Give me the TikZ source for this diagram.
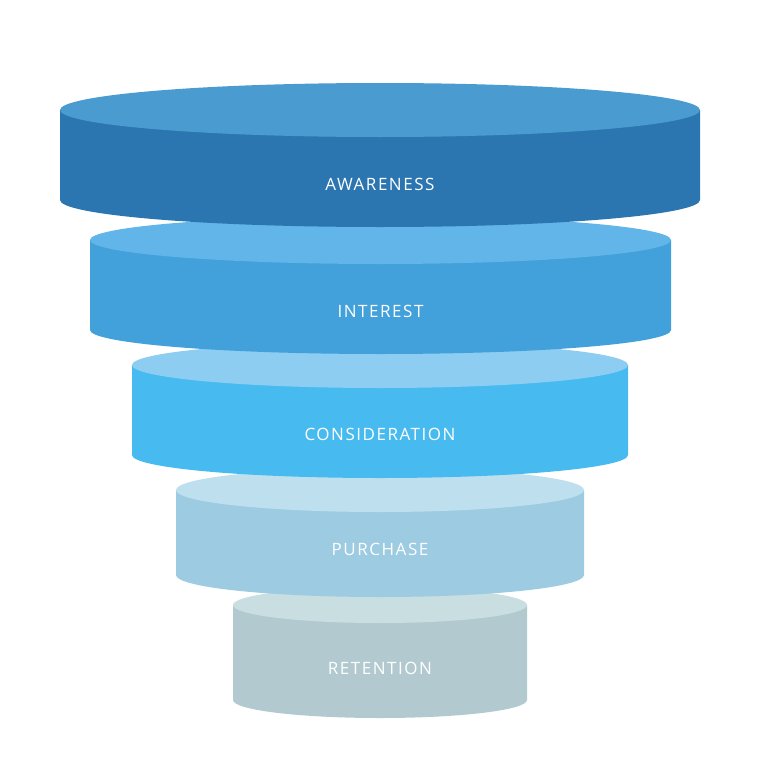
\documentclass[tikz,border=0pt]{standalone}
\usepackage{fontspec}
\newfontfamily\funnelfont[LetterSpace=9]{Open Sans}
\definecolor{awaretop}{HTML}{4A9BCF}\definecolor{awareside}{HTML}{2B76B0}
\definecolor{inttop}{HTML}{62B5E8}\definecolor{intside}{HTML}{42A0DA}
\definecolor{constop}{HTML}{8ECDF2}\definecolor{consside}{HTML}{47BBF0}
\definecolor{purtop}{HTML}{BEE0EE}\definecolor{purside}{HTML}{9DCBE2}
\definecolor{rettop}{HTML}{C9DEE0}\definecolor{retside}{HTML}{B2CACF}
\begin{document}
\begin{tikzpicture}[x=1pt,y=-1pt,
    label/.style={text=white,font=\funnelfont\fontsize{17}{17}\selectfont}]
  \useasboundingbox (0,0) rectangle (768,768);
  % layers, drawn from the bottom up: name/left/right/top/bottom/ry/text y/top colour/side colour/text
  \foreach \nm/\l/\r/\t/\b/\ry/\ty/\ct/\cs/\txt in {
      ret/233/527/605/700/18/668/rettop/retside/RETENTION,
      pur/176/584/490/575/22/549/purtop/purside/PURCHASE,
      cons/132/628/365/455/23/434/constop/consside/CONSIDERATION,
      int/90/671/240/330/24/311/inttop/intside/INTEREST,
      aware/60/700/110/200/27/184/awaretop/awareside/AWARENESS}{
    \pgfmathsetmacro\rx{(\r-\l)/2}
    \fill[\cs] (\l,\t) -- (\l,\b) arc[start angle=180,end angle=360,x radius=\rx,y radius=-\ry]
      -- (\r,\t) -- cycle;
    \fill[\ct] ({(\l+\r)/2},\t) ellipse[x radius=\rx,y radius=\ry];
    \node[label] (\nm) at ({(\l+\r)/2},\ty) {\txt};
  }
\end{tikzpicture}
\end{document}
